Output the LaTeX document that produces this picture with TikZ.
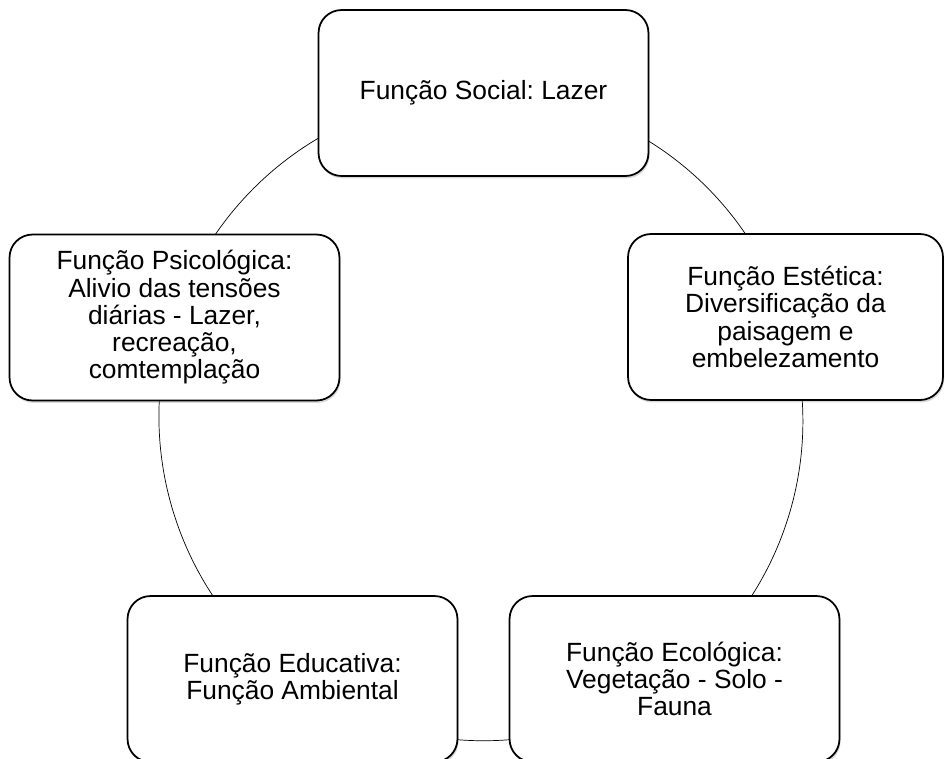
\documentclass[tikz,border=0pt]{standalone}
\usepackage{fontspec}
\setmainfont{Liberation Sans}
\usepackage{tikz}
\usetikzlibrary{shadows}
\usetikzlibrary{backgrounds}
\tikzset{>=latex}
\tikzset{func/.style={draw, line width=1pt, fill=white, rounded corners=0.46cm,
    minimum width=6.6cm, minimum height=3.32cm, align=center,
    font=\fontsize{15pt}{15.5pt}\selectfont,
    drop shadow={opacity=0.3, shadow xshift=0.6pt, shadow yshift=-1.4pt}}}
\frenchspacing

\begin{document}
\begin{tikzpicture}[x=0.02cm, y=-0.02cm]
      \useasboundingbox (0,0) rectangle (945,758);
      \node[func] (Soc) at (483.5,93) {Função Social: Lazer};
      \node[func, minimum width=6.3cm] (Est) at (785.5,317) {Função Estética:\\Diversificação da\\paisagem e\\embelezamento};
      \node[func] (Eco) at (674.5,679) {Função Ecológica:\\Vegetação - Solo -\\Fauna};
      \node[func] (Edu) at (292.5,679) {Função Educativa:\\Função Ambiental};
      \node[func] (Psi) at (174.5,317.5) {Função Psicológica:\\Alivio das tensões\\diárias - Lazer,\\recreação,\\comtemplação};
      % ciclo
      \begin{scope}[on background layer, line width=0.8pt, looseness=0.94]
      \draw (Soc.center) to[bend left=36] (Est.center);
      \draw (Est.center) to[bend left=36] (Eco.center);
      \draw (Eco.center) to[bend left=36] (Edu.center);
      \draw (Edu.center) to[bend left=36] (Psi.center);
      \draw (Psi.center) to[bend left=36] (Soc.center);
      \end{scope}
\end{tikzpicture}
\end{document}
